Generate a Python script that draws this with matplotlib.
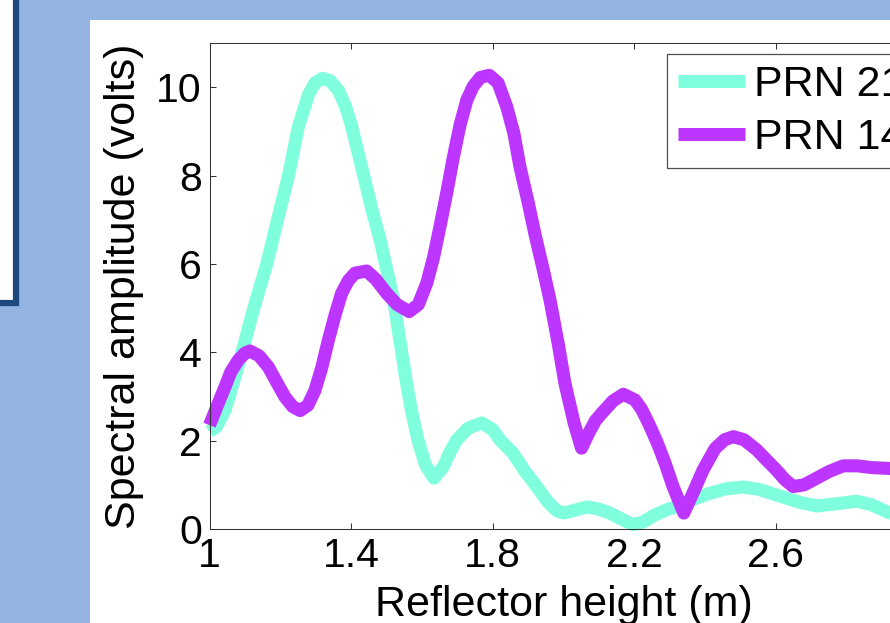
import matplotlib
matplotlib.use('Agg')
import matplotlib.pyplot as plt
from matplotlib.patches import Rectangle

# Datos
x_prn21 = [1.000, 1.020, 1.044, 1.072, 1.095, 1.129, 1.162, 1.194, 1.223, 1.251,
           1.279, 1.298, 1.319, 1.340, 1.364, 1.385, 1.402, 1.434, 1.460, 1.482,
           1.500, 1.521, 1.552, 1.570, 1.589, 1.610, 1.634, 1.660, 1.680, 1.698,
           1.730, 1.769, 1.800, 1.821, 1.857, 1.890, 1.925, 1.955, 1.980, 2.000,
           2.030, 2.067, 2.100, 2.131, 2.165, 2.196, 2.225, 2.258, 2.290, 2.329,
           2.370, 2.414, 2.460, 2.507, 2.550, 2.602, 2.660, 2.715, 2.770, 2.828,
           2.870, 2.922, 2.960]
y_prn21 = [2.20, 2.32, 2.69, 3.44, 4.10, 5.11, 6.00, 7.06, 7.99, 9.10,
           9.82, 10.10, 10.20, 10.15, 9.93, 9.55, 9.10, 8.05, 7.20, 6.54,
           5.90, 5.14, 3.53, 2.70, 2.01, 1.45, 1.15, 1.40, 1.75, 2.01,
           2.28, 2.40, 2.25, 2.01, 1.72, 1.32, 0.95, 0.62, 0.42, 0.36,
           0.42, 0.50, 0.45, 0.36, 0.22, 0.10, 0.16, 0.32, 0.43, 0.54,
           0.68, 0.81, 0.91, 0.95, 0.90, 0.77, 0.62, 0.52, 0.57, 0.63,
           0.55, 0.36, 0.28]

x_prn14 = [1.000, 1.020, 1.044, 1.060, 1.081, 1.100, 1.114, 1.140, 1.166, 1.190,
           1.213, 1.235, 1.256, 1.278, 1.298, 1.317, 1.336, 1.355, 1.373, 1.392,
           1.411, 1.444, 1.470, 1.501, 1.530, 1.564, 1.590, 1.614, 1.633, 1.651,
           1.670, 1.689, 1.708, 1.727, 1.745, 1.765, 1.790, 1.815, 1.840, 1.860,
           1.877, 1.900, 1.920, 1.942, 1.962, 1.985, 2.004, 2.030, 2.051, 2.070,
           2.090, 2.108, 2.140, 2.169, 2.202, 2.220, 2.240, 2.265, 2.287, 2.310,
           2.340, 2.365, 2.394, 2.428, 2.455, 2.480, 2.510, 2.546, 2.575, 2.602,
           2.625, 2.649, 2.680, 2.715, 2.750, 2.790, 2.830, 2.870, 2.922, 2.960]
y_prn14 = [2.35, 2.75, 3.22, 3.55, 3.82, 3.98, 4.03, 3.92, 3.67, 3.32,
           2.99, 2.77, 2.68, 2.80, 3.14, 3.65, 4.28, 4.85, 5.33, 5.62,
           5.79, 5.84, 5.65, 5.33, 5.08, 4.92, 5.08, 5.57, 6.15, 6.84,
           7.60, 8.42, 9.15, 9.71, 10.02, 10.22, 10.27, 10.10, 9.55, 8.95,
           8.20, 7.40, 6.65, 5.90, 5.18, 4.20, 3.30, 2.40, 1.83, 2.15,
           2.45, 2.62, 2.90, 3.05, 2.92, 2.72, 2.40, 1.95, 1.49, 0.95,
           0.36, 0.80, 1.33, 1.82, 2.02, 2.09, 2.02, 1.79, 1.55, 1.33,
           1.12, 0.96, 1.00, 1.15, 1.30, 1.43, 1.43, 1.39, 1.37, 1.36]

labels = ['PRN 21', 'PRN 14']
colores = ['#80ffde', '#bd36ff']
xticks = [1, 1.4, 1.8, 2.2, 2.6]
xticklabels = ['1', '1.4', '1.8', '2.2', '2.6']
yticks = [0, 2, 4, 6, 8, 10]

plt.rcParams['font.family'] = ['Liberation Sans', 'DejaVu Sans']

W, H = 890, 623
fig = plt.figure(figsize=(W / 100, H / 100), dpi=100)
fig.patch.set_facecolor('#93b3e1')

# Recuadro azul oscuro a la izquierda (fondo de la diapositiva)
fig.add_artist(Rectangle((-50 / W, 1 - 303 / H), 66 / W, 400 / H,
                         transform=fig.transFigure, facecolor='white',
                         edgecolor='#1f497d', linewidth=4.5, zorder=-10))
# Panel blanco de la figura
fig.add_artist(Rectangle((90 / W, -0.1), 1.0, 1.1 - 20 / H,
                         transform=fig.transFigure, facecolor='white',
                         edgecolor='none', zorder=-10))

ax = fig.add_axes([209.5 / W, (H - 529) / H, 708 / W, 486 / H])
ax.set_facecolor('white')

ax.plot(x_prn21, y_prn21, color=colores[0], lw=9.4, label=labels[0],
        solid_joinstyle='round', solid_capstyle='butt', clip_on=False)
ax.plot(x_prn14, y_prn14, color=colores[1], lw=9.4, label=labels[1],
        solid_joinstyle='round', solid_capstyle='butt', clip_on=False)

ax.set_xlim(1, 3)
ax.set_ylim(0, 11)
ax.set_xticks(xticks)
ax.set_xticklabels(xticklabels)
ax.set_yticks(yticks)
ax.tick_params(direction='in', length=4.3, width=0.75, color='#333333',
               top=True, right=True, labelsize=29.5)
ax.tick_params(axis='x', pad=6)
ax.tick_params(axis='y', pad=5.5)
for s in ax.spines.values():
    s.set_linewidth(0.75)
    s.set_color('#333333')

ax.set_xlabel('Reflector height (m)', fontsize=31)
ax.set_ylabel('Spectral amplitude (volts)', fontsize=31)
ax.xaxis.set_label_coords(0.5, -0.115)
ax.yaxis.set_label_coords((124 - 209.5) / 708, 0.5)
ax.yaxis.label.set_verticalalignment('center')

leg = ax.legend(loc='upper left', bbox_to_anchor=(667 / W, 1 - 54 / H),
                bbox_transform=fig.transFigure, fontsize=31, frameon=True,
                fancybox=False, borderaxespad=0, borderpad=0.25,
                handlelength=1.55, handletextpad=0.22, labelspacing=0.3)
leg.get_frame().set_edgecolor('#222222')
leg.get_frame().set_linewidth(0.9)

fig.savefig('out.png', dpi=100, facecolor=fig.get_facecolor())
